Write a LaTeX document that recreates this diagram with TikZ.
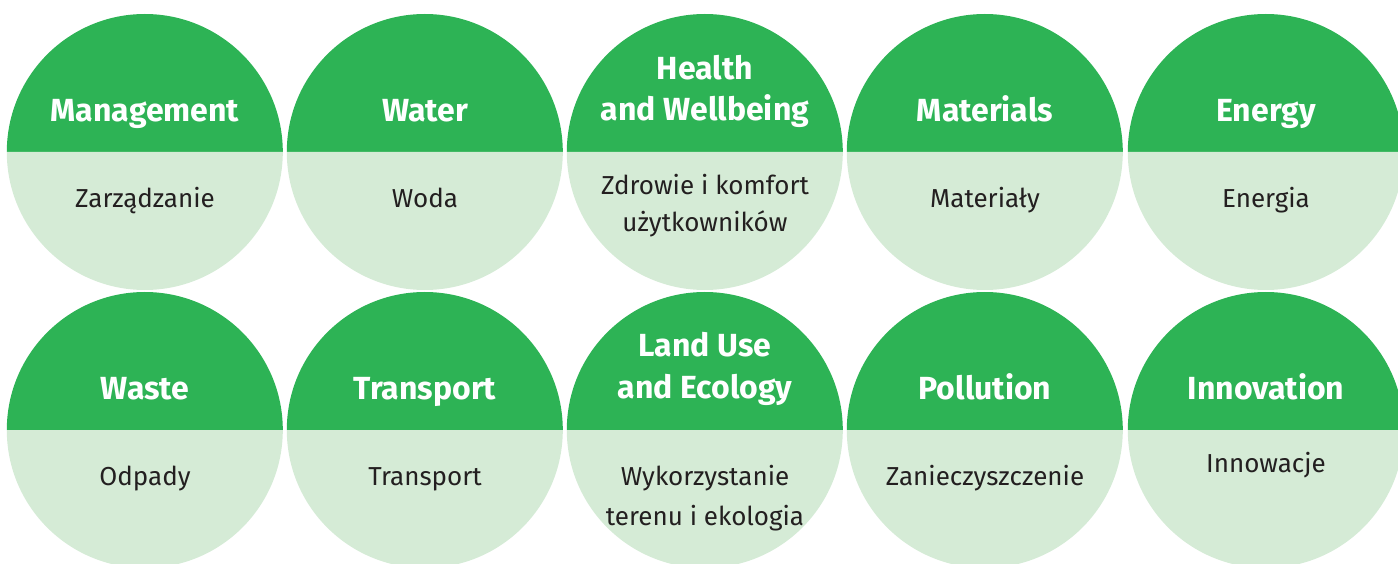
\documentclass[tikz,border=0pt]{standalone}
\usepackage{fontspec}
\setmainfont{Fira Sans}
\definecolor{dgreen}{HTML}{2DB355}
\definecolor{lgreen}{HTML}{D5EBD6}
\definecolor{ink}{HTML}{231F20}
\tikzset{
  disc/.style={circle,minimum size=276pt,inner sep=0pt},
  ttl/.style={anchor=base,text=white,font=\fontsize{32}{38}\bfseries\selectfont,inner sep=0pt},
  sub/.style={anchor=base,text=ink,font=\fontsize{26}{32}\selectfont,inner sep=0pt}
}
\newcommand{\halves}[1]{%
  \fill[dgreen] (#1.west) arc[start angle=180,end angle=0,radius=138pt] -- cycle;
  \fill[lgreen] (#1.west) arc[start angle=180,end angle=360,radius=138pt] -- cycle;}
\begin{document}
\begin{tikzpicture}[x=1pt,y=1pt]
\useasboundingbox (0,0) rectangle (1398,563);
\clip (0,0) rectangle (1398,563);
% row 1
\node[disc] (c1) at (145,411) {};
\node[disc] (c2) at (425,411) {};
\node[disc] (c3) at (705,411) {};
\node[disc] (c4) at (985,411) {};
\node[disc] (c5) at (1266,411) {};
% row 2
\node[disc] (c6) at (145,133) {};
\node[disc] (c7) at (425,133) {};
\node[disc] (c8) at (705,133) {};
\node[disc] (c9) at (985,133) {};
\node[disc] (c10) at (1266,133) {};
\halves{c1}\halves{c2}\halves{c3}\halves{c4}\halves{c5}
\halves{c6}\halves{c7}\halves{c8}\halves{c9}\halves{c10}
% titles row 1
\node[ttl] (t1) at (145,441) {Management};
\node[ttl] (t2) at (425,441) {Water};
\node[ttl] (t3a) at (705,483) {Health};
\node[ttl] (t3b) at (705,442) {and Wellbeing};
\node[ttl] (t4) at (985,441) {Materials};
\node[ttl] (t5) at (1266,441) {Energy};
% subtitles row 1
\node[sub] (s1) at (145,355) {Zarządzanie};
\node[sub] (s2) at (425,355) {Woda};
\node[sub] (s3a) at (705,368) {Zdrowie i komfort};
\node[sub] (s3b) at (705,331) {użytkowników};
\node[sub] (s4) at (985,355) {Materiały};
\node[sub] (s5) at (1266,355) {Energia};
% titles row 2
\node[ttl] (t6) at (145,164) {Waste};
\node[ttl] (t7) at (425,164) {Transport};
\node[ttl] (t8a) at (705,207) {Land Use};
\node[ttl] (t8b) at (705,165) {and Ecology};
\node[ttl] (t9) at (985,164) {Pollution};
\node[ttl] (t10) at (1266,164) {Innovation};
% subtitles row 2
\node[sub] (s6) at (145,78) {Odpady};
\node[sub] (s7) at (425,78) {Transport};
\node[sub] (s8a) at (705,78) {Wykorzystanie};
\node[sub] (s8b) at (705,38) {terenu i ekologia};
\node[sub] (s9) at (985,78) {Zanieczyszczenie};
\node[sub] (s10) at (1266,91) {Innowacje};
\end{tikzpicture}
\end{document}
